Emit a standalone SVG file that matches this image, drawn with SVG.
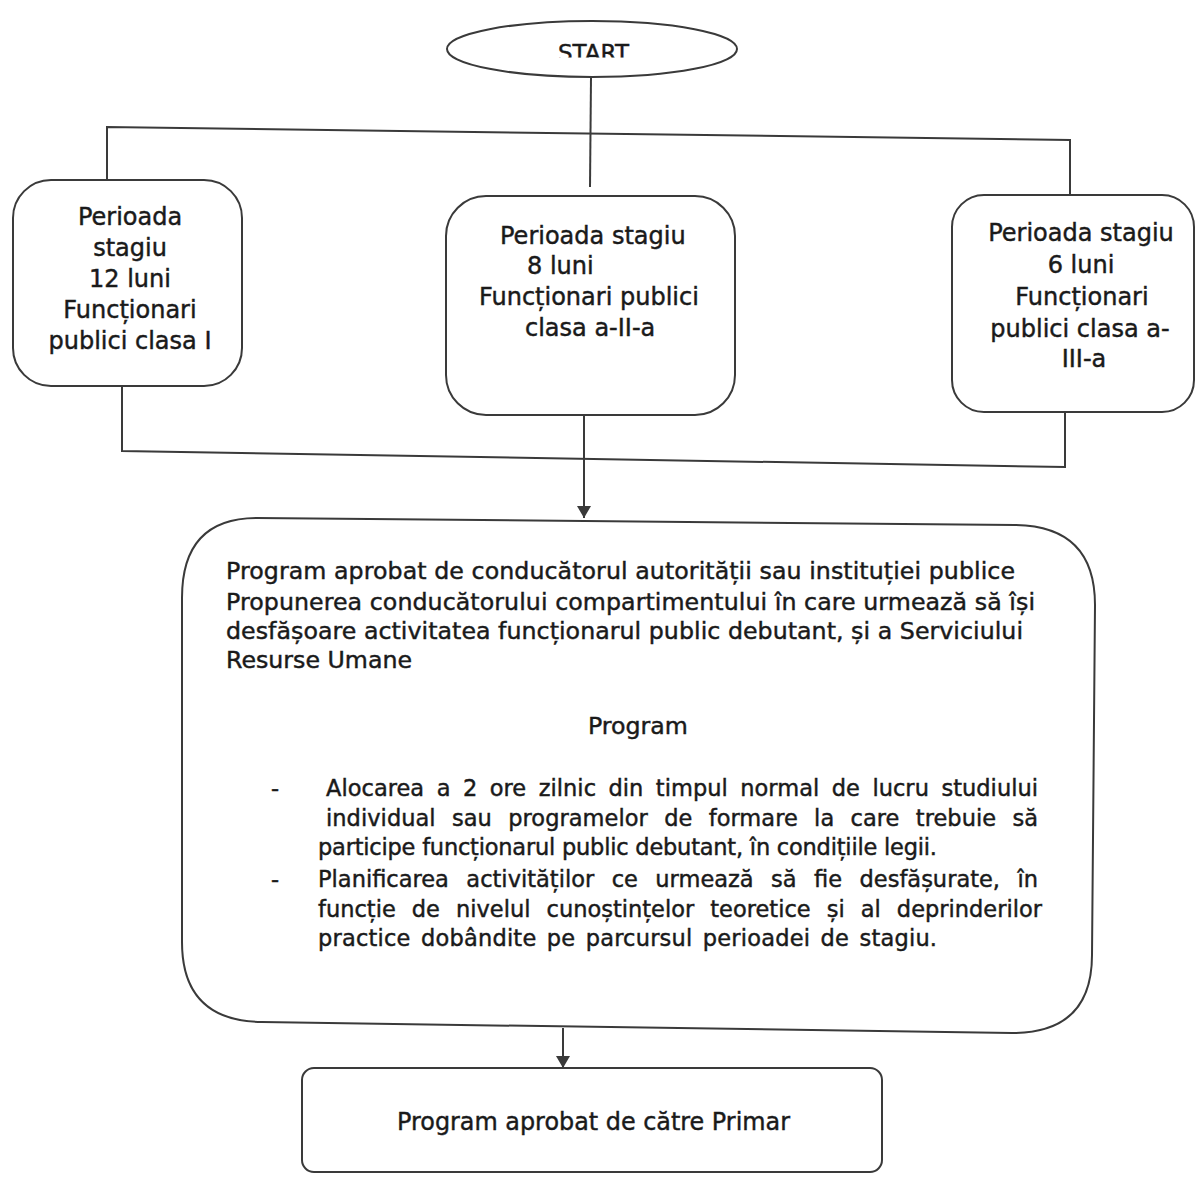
<svg xmlns="http://www.w3.org/2000/svg" width="1196" height="1177" viewBox="0 0 1196 1177">
<style>
.shape{fill:#ffffff;stroke:#3a3a3a;stroke-width:2}
.conn{fill:none;stroke:#3a3a3a;stroke-width:2}
text{font-family:"DejaVu Sans","Liberation Sans",sans-serif;fill:#1a1a1a;stroke:#1a1a1a;stroke-width:0.45}
.lbl{font-size:24px}
.mid{text-anchor:middle}
.big{font-size:23.7px}
.bul{font-size:22.5px}
</style>
<defs>
<marker id="arr" viewBox="0 0 12 14" refX="12" refY="7" markerWidth="12" markerHeight="14" orient="auto" markerUnits="userSpaceOnUse">
<path d="M0,0 L12,7 L0,14 Z" fill="#3a3a3a"/>
</marker>
<clipPath id="startClip"><rect x="440" y="20" width="310" height="37.5"/></clipPath>
</defs>
<rect width="1196" height="1177" fill="#ffffff"/>

<g id="connectors">
<path class="conn" d="M591 77 L590 187"/>
<path class="conn" d="M107 180 L107 127 L1070 140 L1070 195"/>
<path class="conn" d="M122 386 L122 451 L1065 467 L1065 412"/>
<path class="conn" d="M584 416 L584 518" marker-end="url(#arr)"/>
<path class="conn" d="M563 1028 L563 1068" marker-end="url(#arr)"/>
</g>

<g id="start">
<ellipse class="shape" cx="592" cy="49" rx="145" ry="28"/>
<text x="558" y="61" font-size="23" clip-path="url(#startClip)">START</text>
</g>

<g id="box-12-luni">
<rect class="shape" x="13" y="180" width="229" height="206" rx="38"/>
<text class="lbl mid" x="130" y="225">Perioada</text>
<text class="lbl mid" x="130" y="256">stagiu</text>
<text class="lbl mid" x="130" y="287">12 luni</text>
<text class="lbl mid" x="130" y="318">Funcționari</text>
<text class="lbl mid" x="130" y="349">publici clasa I</text>
</g>

<g id="box-8-luni">
<rect class="shape" x="446" y="196" width="289" height="219" rx="40"/>
<text class="lbl" x="500" y="244">Perioada stagiu</text>
<text class="lbl" x="527" y="274">8 luni</text>
<text class="lbl" x="479" y="305">Funcționari publici</text>
<text class="lbl" x="525" y="336">clasa a-II-a</text>
</g>

<g id="box-6-luni">
<rect class="shape" x="952" y="195" width="242" height="217" rx="32"/>
<text class="lbl mid" x="1081" y="241">Perioada stagiu</text>
<text class="lbl mid" x="1081" y="273">6 luni</text>
<text class="lbl mid" x="1082" y="305">Funcționari</text>
<text class="lbl mid" x="1080" y="337">publici clasa a-</text>
<text class="lbl mid" x="1084" y="367">III-a</text>
</g>

<g id="program-box">
<path class="shape" d="M257 518 L1015 525 Q1095 526 1095 605 L1092 955 Q1092 1033 1012 1033 L262 1022 Q182 1021 182 942 L182 598 Q182 518 257 518 Z"/>
<text class="big" x="226" y="579" textLength="789" lengthAdjust="spacing">Program aprobat de conducătorul autorității sau instituției publice</text>
<text class="big" x="226" y="610" textLength="809" lengthAdjust="spacing">Propunerea conducătorului compartimentului în care urmează să își</text>
<text class="big" x="226" y="639" textLength="797" lengthAdjust="spacing">desfășoare activitatea funcționarul public debutant, și a Serviciului</text>
<text class="big" x="226" y="668">Resurse Umane</text>
<text class="big" x="588" y="734">Program</text>
<text class="bul" x="271" y="796">-</text>
<text class="bul" x="326" y="796" word-spacing="5.3" textLength="712" lengthAdjust="spacing">Alocarea a 2 ore zilnic din timpul normal de lucru studiului</text>
<text class="bul" x="326" y="826" word-spacing="9.1" textLength="712" lengthAdjust="spacing">individual sau programelor de formare la care trebuie să</text>
<text class="bul" x="318" y="855" textLength="619" lengthAdjust="spacing">participe funcționarul public debutant, în condițiile legii.</text>
<text class="bul" x="271" y="887">-</text>
<text class="bul" x="318" y="887" word-spacing="10.3" textLength="720" lengthAdjust="spacing">Planificarea activităților ce urmează să fie desfășurate, în</text>
<text class="bul" x="318" y="917" word-spacing="8.9" textLength="724" lengthAdjust="spacing">funcție de nivelul cunoștințelor teoretice și al deprinderilor</text>
<text class="bul" x="318" y="946" word-spacing="3" textLength="619" lengthAdjust="spacing">practice dobândite pe parcursul perioadei de stagiu.</text>
</g>

<g id="primar-box">
<rect class="shape" x="302" y="1068" width="580" height="104" rx="12"/>
<text x="397" y="1130" font-size="25" textLength="393" lengthAdjust="spacingAndGlyphs">Program aprobat de către Primar</text>
</g>
</svg>
